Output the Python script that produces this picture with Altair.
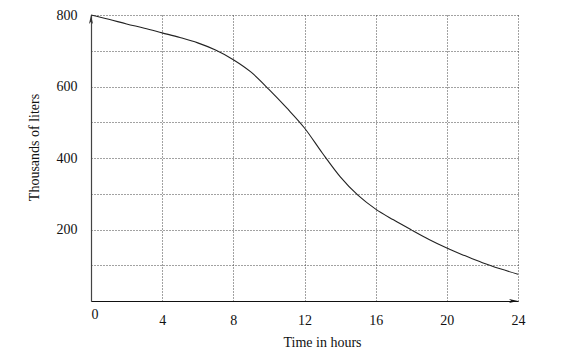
import altair as alt
import pandas as pd

hours = list(range(0, 25))
liters = [800, 788, 775, 763, 750, 737, 722, 702, 675, 640, 592, 540, 484,
          414, 348, 296, 257, 227, 199, 172, 148, 127, 107, 90, 75]

x_ticks = [0, 4, 8, 12, 16, 20, 24]
y_grid = [100, 200, 300, 400, 500, 600, 700, 800]

df = pd.DataFrame({"hours": hours, "liters": liters})
up_arrow = pd.DataFrame({"hours": [0], "liters": [800]})
right_arrow = pd.DataFrame({"hours": [24], "liters": [0]})

FONT = "Liberation Serif"

x_scale = alt.Scale(domain=[0, 24], nice=False)
y_scale = alt.Scale(domain=[0, 800], nice=False)

x_axis = alt.Axis(
    values=x_ticks,
    title="Time in hours",
    ticks=False,
    grid=True,
    gridDash=[1, 2],
    gridColor="#444",
    gridWidth=1,
    domainColor="#111",
    domainWidth=1.2,
    labelFlush=False,
    labelFont=FONT,
    labelFontSize=14,
    labelColor="#111",
    labelBaseline="top",
    labelAlign={"condition": {"test": "datum.value === 0", "value": "left"}, "value": "center"},
    labelPadding={"condition": {"test": "datum.value === 0", "value": 6}, "value": 12},
    titleFont=FONT,
    titleFontSize=14,
    titleFontWeight="normal",
    titleColor="#111",
    titleBaseline="alphabetic",
    titleAnchor="start",
    titleAlign="center",
    titleX=231,
    titleY=45,
)

y_axis = alt.Axis(
    values=y_grid,
    title="Thousands of liters",
    ticks=False,
    grid=True,
    gridDash=[1, 2],
    gridColor="#444",
    gridWidth=1,
    domainColor="#444",
    domainWidth=1.2,
    labelFlush=False,
    labelExpr="datum.value % 200 === 0 ? datum.label : ''",
    labelFont=FONT,
    labelFontSize=14,
    labelColor="#111",
    labelPadding=14,
    labelBaseline="middle",
    titleFont=FONT,
    titleFontSize=14,
    titleFontWeight="normal",
    titleColor="#111",
    titleAngle=270,
    titleBaseline="alphabetic",
    titleAlign="center",
    titleX=-53,
    titleY=132,
)

line = alt.Chart(df).mark_line(color="#222", strokeWidth=1.1, interpolate="monotone").encode(
    x=alt.X("hours:Q", scale=x_scale, axis=x_axis),
    y=alt.Y("liters:Q", scale=y_scale, axis=y_axis),
)

up = alt.Chart(up_arrow).mark_point(
    shape="M0,0L0.45,2L0,1.5L-0.45,2Z", size=81, filled=True, color="#333", opacity=1
).encode(x=alt.X("hours:Q", scale=x_scale), y=alt.Y("liters:Q", scale=y_scale))

right = alt.Chart(right_arrow).mark_point(
    shape="M0,0L-2,-0.45L-1.5,0L-2,0.45Z", size=81, filled=True, color="#111", opacity=1
).encode(x=alt.X("hours:Q", scale=x_scale), y=alt.Y("liters:Q", scale=y_scale))

chart = alt.layer(line, up, right).properties(
    width=427,
    height=286,
    autosize=alt.AutoSizeParams(type="none"),
    padding={"left": 91, "top": 15, "right": 55, "bottom": 63},
    background="white",
).configure_view(stroke=None)

chart.save("out.html", embed_options={"renderer": "svg", "actions": False})
